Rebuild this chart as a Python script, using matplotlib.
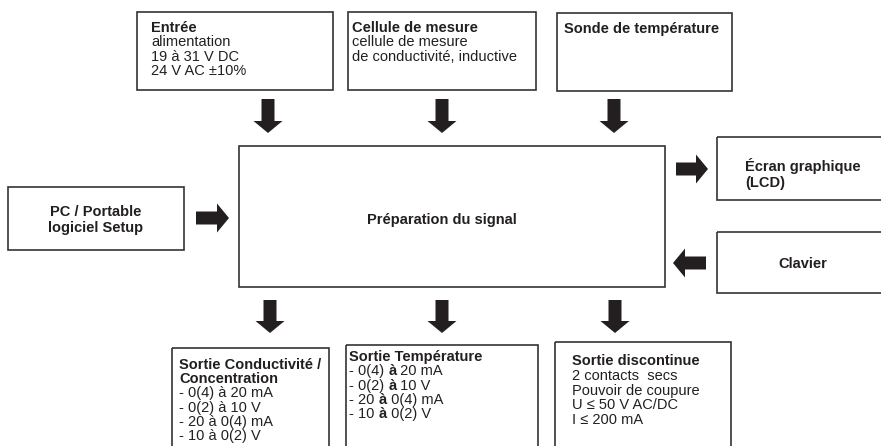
"""
Schéma synoptique : préparation du signal (conductivité inductive)
"""
import matplotlib
matplotlib.use('Agg')
import matplotlib.pyplot as plt
from matplotlib.patches import Rectangle, FancyArrow

plt.rcParams['font.family'] = ['Liberation Sans', 'DejaVu Sans']

INK = '#231f20'
EDGE = '#333333'
FS = 10.5

# ===== textes des blocs : chaque ligne = liste de (texte, gras) =====
ENTREE = [[('Entrée', True)], [('alimentation', False)],
          [('19 à 31 V DC', False)], [('24 V AC ±10%', False)]]
CELLULE = [[('Cellule de mesure', True)], [('cellule de mesure', False)],
           [('de conductivité, inductive', False)]]
SONDE = [[('Sonde de température', True)]]
SORTIE_COND = [[('Sortie Conductivité /', True)], [('Concentration', True)],
               [('- 0(4) à 20 mA', False)], [('- 0(2) à 10 V', False)],
               [('- 20 à 0(4) mA', False)], [('- 10 à 0(2) V', False)]]
SORTIE_TEMP = [[('Sortie Température', True)],
               [('- 0(4) ', False), ('à', True), (' 20 mA', False)],
               [('- 0(2) ', False), ('à', True), (' 10 V', False)],
               [('- 20 ', False), ('à', True), (' 0(4) mA', False)],
               [('- 10 ', False), ('à', True), (' 0(2) V', False)]]
SORTIE_DISC = [[('Sortie discontinue', True)], [('2 contacts  secs', False)],
               [('Pouvoir de coupure', False)], [('U ≤ 50 V AC/DC', False)],
               [('I ≤ 200 mA', False)]]
PC_TEXT = 'PC / Portable\nlogiciel Setup'
CENTRE_TEXT = 'Préparation du signal'
ECRAN_TEXT = 'Écran graphique\n(LCD)'
CLAVIER_TEXT = 'Clavier'

# ===== géométrie (pixels) =====
BOXES = {
    'entree': (137, 12, 333, 90),
    'cellule': (348, 12, 536, 90),
    'sonde': (557, 13, 732, 91),
    'centre': (239, 146, 665, 287),
    'pc': (8, 187, 184, 250),
    'ecran': (717, 137, 895, 200),
    'clavier': (717, 232, 895, 293),
    'cond': (172, 348, 329, 470),
    'temp': (346, 345, 538, 470),
    'disc': (555, 342, 731, 470),
}
TOP_ARROW_X = [268, 442, 614]
BOTTOM_ARROW_X = [270, 442, 615]

fig = plt.figure(figsize=(8.81, 4.46), dpi=100)
ax = fig.add_axes([0, 0, 1, 1])
ax.set_xlim(0, 881)
ax.set_ylim(446, 0)
ax.axis('off')
renderer = fig.canvas.get_renderer()

for x0, y0, x1, y1 in BOXES.values():
    ax.add_patch(Rectangle((x0, y0), x1 - x0, y1 - y0, fill=False,
                           edgecolor=EDGE, linewidth=1.2))


def arrow(x, y, dx, dy):
    ax.add_patch(FancyArrow(x, y, dx, dy, width=13, head_width=29, head_length=12,
                            length_includes_head=True, color=INK, lw=0))


for x in TOP_ARROW_X:
    arrow(x, 99, 0, 34)
for x in BOTTOM_ARROW_X:
    arrow(x, 300, 0, 33)
arrow(196, 218, 33, 0)
arrow(676, 169, 32, 0)
arrow(706, 263, -33, 0)


def text_width(s, weight):
    t = ax.text(0, 0, s, fontsize=FS, fontweight=weight)
    w = t.get_window_extent(renderer).width
    t.remove()
    return w


def draw_lines(x, y, lines, dy):
    for i, segs in enumerate(lines):
        cx = x
        for s, bold in segs:
            w = 'bold' if bold else 'normal'
            ax.text(cx, y + i * dy, s, fontsize=FS, fontweight=w, color=INK,
                    ha='left', va='baseline')
            cx += text_width(s + '.', w) - text_width('.', w)


draw_lines(151, 32, ENTREE, 14.4)
draw_lines(352, 32, CELLULE, 14.4)
draw_lines(564, 33, SONDE, 14.4)
draw_lines(179, 369, SORTIE_COND, 14.2)
draw_lines(349, 361, SORTIE_TEMP, 14.3)
draw_lines(572, 365, SORTIE_DISC, 14.8)

ax.text(96, 220, PC_TEXT, fontsize=FS, fontweight='bold', color=INK,
        ha='center', va='center', linespacing=1.2)
ax.text(442, 220, CENTRE_TEXT, fontsize=FS, fontweight='bold', color=INK,
        ha='center', va='center')
ax.text(745, 174, ECRAN_TEXT, fontsize=FS, fontweight='bold', color=INK,
        ha='left', va='center', linespacing=1.2)
ax.text(803, 264, CLAVIER_TEXT, fontsize=FS, fontweight='bold', color=INK,
        ha='center', va='center')

fig.savefig('out.png', dpi=100)
